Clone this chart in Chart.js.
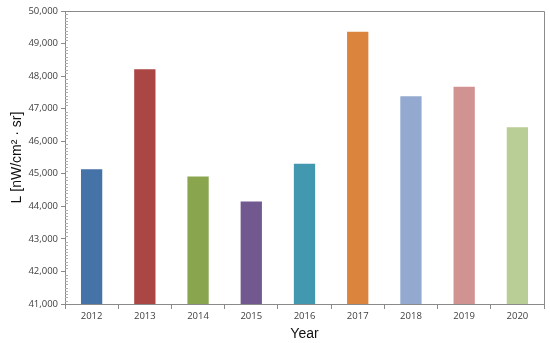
<!DOCTYPE html>
<html>
<head>
<meta charset="utf-8">
<script src="https://cdn.jsdelivr.net/npm/chart.js@4"></script>
<style>
  html, body { margin: 0; padding: 0; background: #fff; }
  #wrap { width: 550px; height: 343px; position: relative; }
</style>
</head>
<body>
<div id="wrap"><canvas id="lightChart"></canvas></div>
<script>
// Data
const years = ['2012', '2013', '2014', '2015', '2016', '2017', '2018', '2019', '2020'];
const radiance = [45140, 48210, 44920, 44150, 45310, 49360, 47380, 47670, 46430];
const barColors = ['#4572A7', '#AA4643', '#89A54E', '#71588F', '#4198AF', '#DB843D', '#93A9CF', '#D19392', '#B9CD96'];
const yMin = 41000;
const yMax = 50000;

// Draws the top/right frame and the small minor ticks on the y axis
const frameAndMinorTicks = {
    id: 'frameAndMinorTicks',
    afterDraw(chart) {
        const ctx = chart.ctx;
        const area = chart.chartArea;
        const y = chart.scales.y;
        ctx.save();
        ctx.strokeStyle = '#8a8a8a';
        ctx.lineWidth = 1;
        ctx.beginPath();
        ctx.moveTo(area.left, area.top + 0.5);
        ctx.lineTo(area.right + 0.5, area.top + 0.5);
        ctx.lineTo(area.right + 0.5, area.bottom);
        ctx.stroke();

        ctx.strokeStyle = '#b0b0b0';
        ctx.beginPath();
        for (let v = yMin; v <= yMax; v += 100) {
            if (v % 1000 === 0) continue;
            const py = Math.round(y.getPixelForValue(v)) + 0.5;
            ctx.moveTo(area.left, py);
            ctx.lineTo(area.left + 3, py);
        }
        ctx.stroke();
        ctx.restore();
    }
};

const ctx = document.getElementById('lightChart').getContext('2d');
new Chart(ctx, {
    type: 'bar',
    data: {
        labels: years,
        datasets: [{
            data: radiance,
            backgroundColor: barColors,
            borderWidth: 0,
            barPercentage: 0.4,
            categoryPercentage: 1.0
        }]
    },
    options: {
        responsive: true,
        maintainAspectRatio: false,
        animation: false,
        layout: { padding: { top: 11, right: 6, left: 0, bottom: 0 } },
        plugins: {
            legend: { display: false },
            tooltip: { enabled: false }
        },
        scales: {
            x: {
                afterFit(scale) { scale.height = 39; },
                grid: {
                    drawOnChartArea: false,
                    tickLength: 5,
                    color: '#8a8a8a'
                },
                border: { color: '#8a8a8a' },
                ticks: {
                    color: '#404040',
                    font: { family: 'Open Sans', size: 9.5 },
                    padding: 2
                },
                title: {
                    display: true,
                    text: 'Year',
                    color: '#111',
                    font: { family: 'Liberation Sans', size: 14 },
                    padding: { top: 0, bottom: 0 }
                }
            },
            y: {
                min: yMin,
                max: yMax,
                afterFit(scale) { scale.width = 65; },
                grid: {
                    drawOnChartArea: false,
                    tickLength: 4,
                    color: '#8a8a8a'
                },
                border: { color: '#8a8a8a' },
                ticks: {
                    stepSize: 1000,
                    color: '#404040',
                    font: { family: 'Open Sans', size: 9.5 },
                    padding: 3,
                    callback: v => v.toLocaleString('en-US')
                },
                title: {
                    display: true,
                    text: 'L [nW/cm² · sr]',
                    color: '#111',
                    font: { family: 'Liberation Sans', size: 14 },
                    padding: { top: 9, bottom: 0 }
                }
            }
        }
    },
    plugins: [frameAndMinorTicks]
});
</script>
</body>
</html>
